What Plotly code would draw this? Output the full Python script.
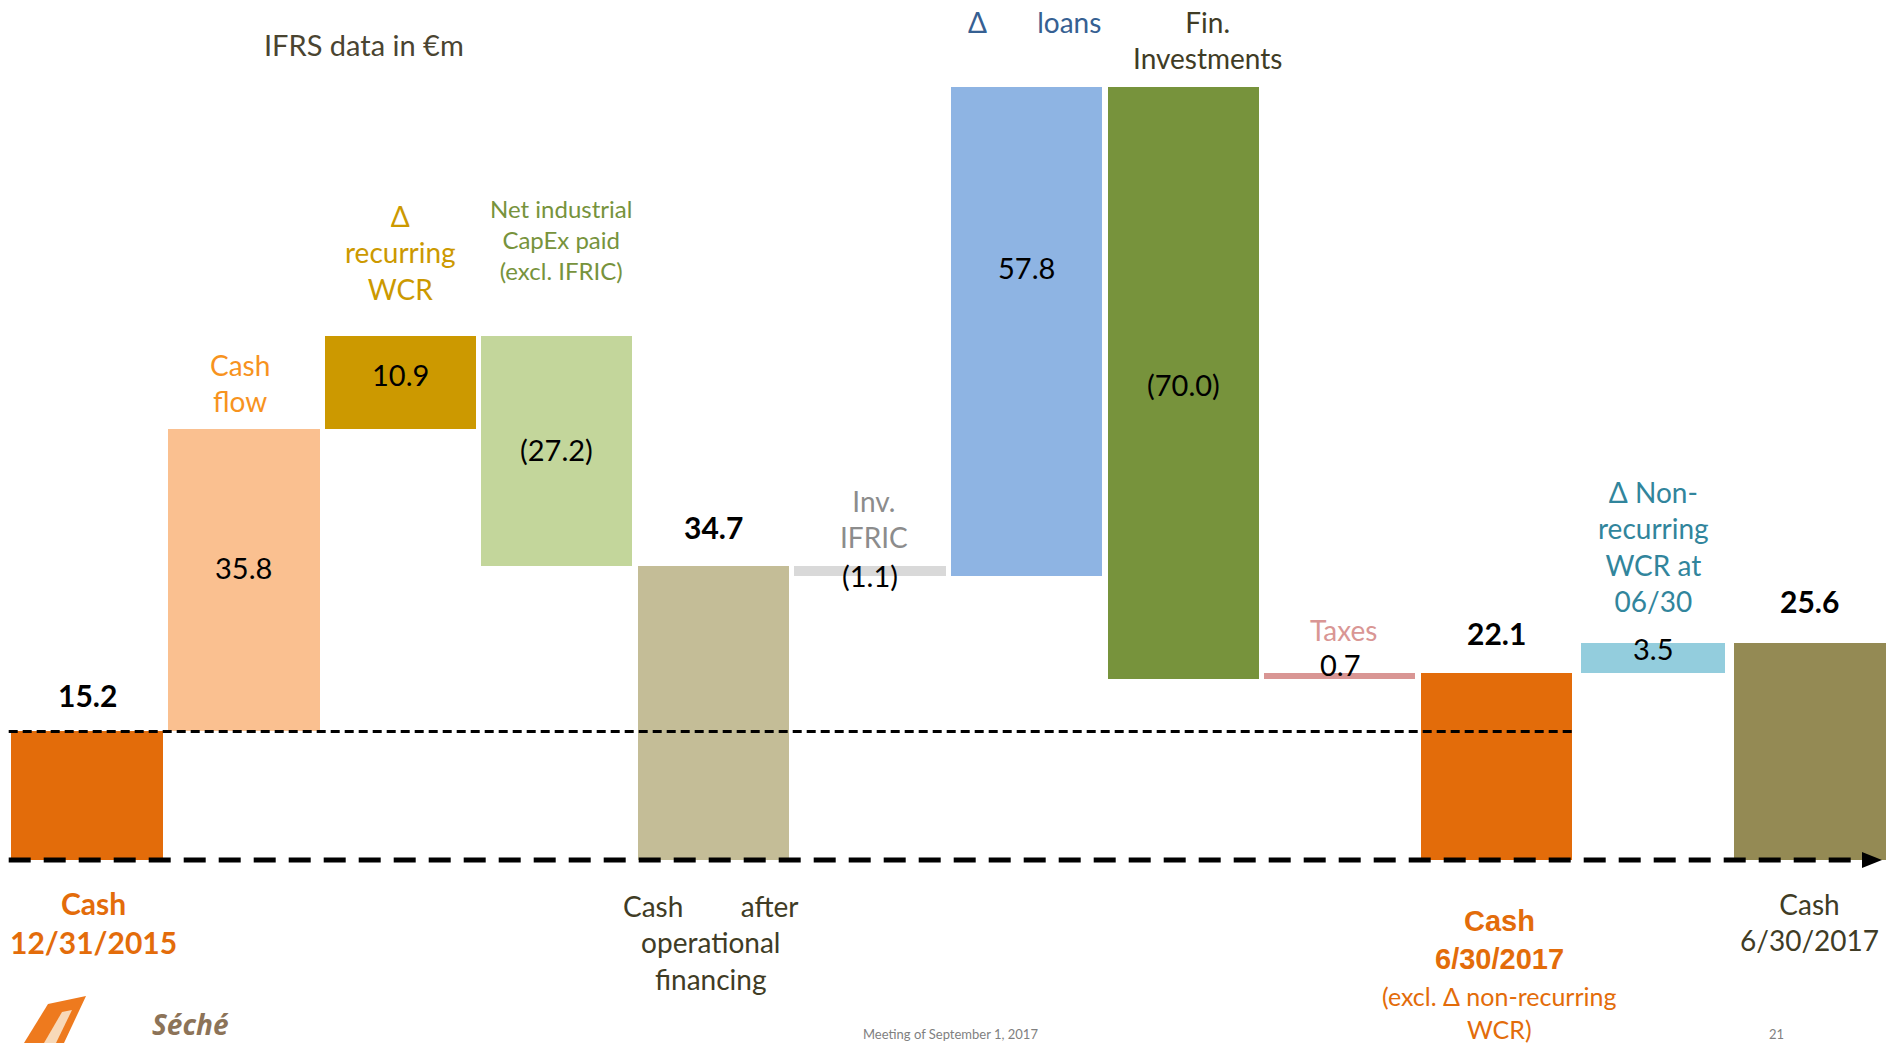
import plotly.graph_objects as go

# ---- data (IFRS, in €m) ----
steps = [
    "Cash 12/31/2015", "Cash flow", "Δ recurring WCR", "Net industrial CapEx paid",
    "Cash after operational financing", "Inv. IFRIC", "Δ loans", "Fin. Investments",
    "Taxes", "Cash 6/30/2017 (excl. Δ non-recurring WCR)", "Δ Non-recurring WCR at 06/30",
    "Cash 6/30/2017",
]
amounts = [15.2, 35.8, 10.9, -27.2, 34.7, -1.1, 57.8, -70.0, 0.7, 22.1, 3.5, 25.6]
is_total = [True, False, False, False, True, False, False, False, False, True, False, True]

top_labels = [
    None, "Cash<br>flow", "Δ<br>recurring<br>WCR", "Net industrial<br>CapEx paid<br>(excl. IFRIC)",
    None, "Inv.<br>IFRIC", "Δ\u00a0\u00a0\u00a0\u00a0\u00a0\u00a0\u00a0loans", "Fin.<br>Investments",
    "Taxes", None, "Δ Non-<br>recurring<br>WCR at<br>06/30", None,
]
bottom_labels = [
    "Cash<br>12/31/2015", None, None, None,
    "Cash" + "\u00a0" * 8 + "after<br>operational<br>financing", None, None, None,
    None, "Cash<br>6/30/2017", None, "Cash<br>6/30/2017",
]

# ---- styles ----
bar_colors = ["#E36C0A", "#FAC090", "#CC9900", "#C3D69B", "#C4BD97", "#D9D9D9",
              "#8EB4E3", "#77933C", "#D99694", "#E36C0A", "#93CDDD", "#948A54"]
bar_widths = [0.97, 0.97, 0.965, 0.965, 0.965, 0.965, 0.965, 0.965, 0.965, 0.965, 0.92, 0.97]
top_colors = [None, "#F7931E", "#CC9900", "#77933C", None, "#8C8C8C", "#366092", "#403C25",
              "#D99694", None, "#31859C", None]
top_sizes = [None, 28, 28, 24, None, 28, 28, 28, 28, None, 28, None]
# offsets (px) of the labels relative to their bars
top_shift = [0, 46, 84, 97, 0, 47, 65, 47, 43, 0, 97, 0]
top_xshift = [0, -4, 0, 4, 0, 4, 8, 24, 4, 0, 0, 0]
value_shift = [36, 12, 8, 2, 39, -4, 64, -2, 11, 40, 9.5, 42]
bottom_shift = [-62, 0, 0, 0, -82, 0, 0, 0, 0, -80, 0, -62]
bottom_xshift = [6, 0, 0, 0, -2, 0, 0, 0, 0, 3, 0, 0]

W, H = 1892, 1043
FONT = "Lato, 'Open Sans', sans-serif"
DARK = "#403C25"
ORANGE = "#E36C0A"

# ---- waterfall geometry ----
bases, heights, tops = [], [], []
running = 0.0
for a, tot in zip(amounts, is_total):
    if tot:
        b, h = 0.0, a
        running = a
    else:
        b = running if a >= 0 else running + a
        h = abs(a)
        running += a
    bases.append(b)
    heights.append(h)
    tops.append(b + h)

xs = list(range(len(amounts)))


def fmt(v):
    return f"{v:.1f}" if v >= 0 else f"({abs(v):.1f})"


fig = go.Figure()
fig.add_trace(go.Bar(
    x=xs, y=heights, base=bases, width=bar_widths,
    marker=dict(color=bar_colors, line=dict(width=0)),
    hoverinfo="skip", showlegend=False,
))

ann = []
# values
for i, (a, tot) in enumerate(zip(amounts, is_total)):
    if tot:
        ann.append(dict(x=i, y=tops[i], yshift=value_shift[i], text=f"<b>{fmt(a)}</b>",
                        font=dict(family=FONT, size=30, color="#000000")))
    else:
        ann.append(dict(x=i, y=bases[i] + heights[i] / 2, yshift=value_shift[i], text=fmt(a),
                        font=dict(family=FONT, size=29, color="#000000")))
# category labels above the bars
for i, lab in enumerate(top_labels):
    if lab:
        ann.append(dict(x=i, y=tops[i], yshift=top_shift[i], xshift=top_xshift[i], text=lab,
                        font=dict(family=FONT, size=top_sizes[i], color=top_colors[i])))
# labels below the axis
bottom_style = {
    0: dict(family=FONT, size=30, color=ORANGE),
    4: dict(family=FONT, size=28, color=DARK),
    9: dict(family="'Liberation Sans', Arial, sans-serif", size=29, color=ORANGE),
    11: dict(family=FONT, size=28, color=DARK),
}
for i, lab in enumerate(bottom_labels):
    if lab:
        txt = f"<b>{lab}</b>" if i in (0, 9) else lab
        ann.append(dict(x=i, y=0, yshift=bottom_shift[i], xshift=bottom_xshift[i], text=txt,
                        font=bottom_style[i]))
ann.append(dict(x=9, y=0, yshift=-152, xshift=3, text="(excl. Δ non-recurring<br>WCR)",
                font=dict(family=FONT, size=25, color=ORANGE)))

for a in ann:
    a.update(xref="x", yref="y", showarrow=False, xanchor="center", yanchor="middle")


def px(xp, yp):
    return xp / W, 1 - yp / H


# title note, logo text and footer
tx, ty = px(364, 45)
ann.append(dict(x=tx, y=ty, xref="paper", yref="paper", showarrow=False, text="IFRS data in €m",
                font=dict(family=FONT, size=29, color="#4A4431"), xanchor="center", yanchor="middle"))
lx, ly = px(190, 1024)
ann.append(dict(x=lx, y=ly, xref="paper", yref="paper", showarrow=False,
                text="<b><i>Séché</i></b>", font=dict(family="'Noto Sans', sans-serif", size=28, color="#8C7358"),
                xanchor="center", yanchor="middle"))
fx, fy = px(950, 1043)
ann.append(dict(x=fx, y=fy, xref="paper", yref="paper", showarrow=False,
                text="Meeting of September 1, 2017", font=dict(family=FONT, size=13, color="#7F7F7F"),
                xanchor="center", yanchor="bottom", borderpad=0))
nx, ny = px(1776, 1043)
ann.append(dict(x=nx, y=ny, xref="paper", yref="paper", showarrow=False,
                text="21", font=dict(family=FONT, size=13, color="#7F7F7F"),
                xanchor="center", yanchor="bottom", borderpad=0))

shapes = [
    # reference line at opening cash level
    dict(type="line", xref="x", yref="y", x0=-0.5, x1=9.5, y0=amounts[0], y1=amounts[0],
         line=dict(color="#000000", width=3, dash="9px,5px"), layer="above"),
    # dashed base axis
    dict(type="line", xref="x", yref="y", x0=-0.5, x1=11.35, y0=0, y1=0,
         line=dict(color="#000000", width=5, dash="22px,13px"), layer="above"),
]
# arrow head at the end of the axis
ax0, _ = px(1862, 0)
ax1, _ = px(1882, 0)
shapes.append(dict(type="path", xref="paper", yref="y",
                   path=f"M {ax0} 0.95 L {ax1} 0 L {ax0} -0.95 Z",
                   fillcolor="#000000", line=dict(width=0), layer="above"))
# logo mark
p = [px(24, 1043), px(48, 1004), px(86, 996), px(64, 1043)]
q = [px(44, 1043), px(62, 1012), px(72, 1010), px(56, 1043)]
shapes.append(dict(type="path", xref="paper", yref="paper",
                   path="M " + " L ".join(f"{a} {b}" for a, b in p) + " Z",
                   fillcolor="#EE7A1E", line=dict(width=0)))
shapes.append(dict(type="path", xref="paper", yref="paper",
                   path="M " + " L ".join(f"{a} {b}" for a, b in q) + " Z",
                   fillcolor="#F8D9B8", line=dict(width=0)))

# axis ranges: bars centred 156.6 px apart, 8.46 px per €m, zero at y=860 px
x_step = 156.6
x_lo = -87 / x_step
x_hi = (W - 87) / x_step
y_scale = 8.46
y_hi = 860 / y_scale
y_lo = -(H - 860) / y_scale

fig.update_layout(
    width=W, height=H,
    margin=dict(l=0, r=0, t=0, b=0),
    paper_bgcolor="#FFFFFF", plot_bgcolor="#FFFFFF",
    xaxis=dict(range=[x_lo, x_hi], visible=False, fixedrange=True),
    yaxis=dict(range=[y_lo, y_hi], visible=False, fixedrange=True),
    bargap=0, annotations=ann, shapes=shapes,
    font=dict(family=FONT),
)

fig.write_html("out.html", config={"displayModeBar": False})
